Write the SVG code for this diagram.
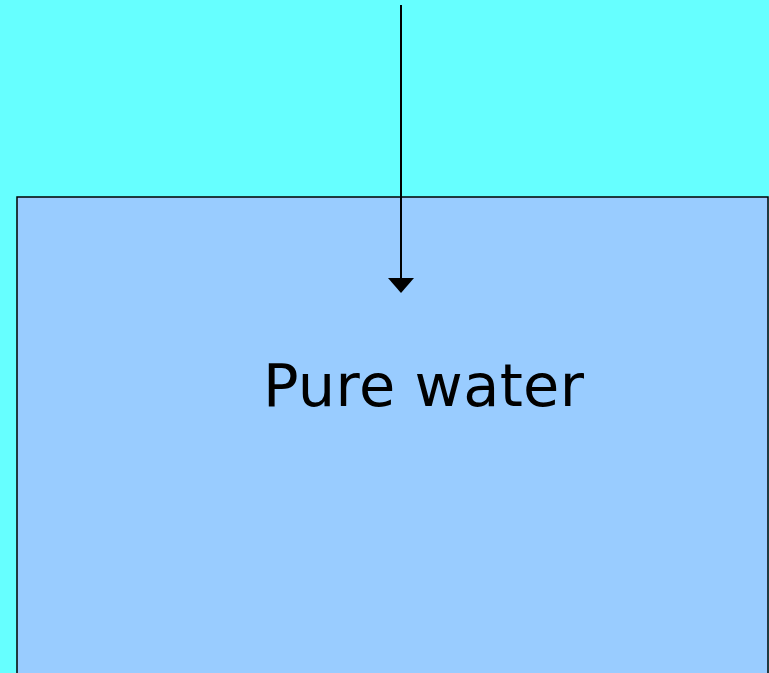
<svg xmlns="http://www.w3.org/2000/svg" width="769" height="673" viewBox="0 0 769 673">
<defs>
<style>
.label{font-family:"DejaVu Sans","Liberation Sans",sans-serif;font-size:59px;fill:#000}
.conn{stroke:#000;stroke-width:2;fill:none}
.head{fill:#000}
</style>
</defs>
<rect x="0" y="0" width="769" height="673" fill="#66FFFF"/>
<g id="water">
<rect x="17" y="197" width="751" height="490" fill="#99CCFF" stroke="#000" stroke-width="1.5"/>
<text class="label" x="263" y="406" textLength="321" lengthAdjust="spacing">Pure water</text>
</g>
<g id="connectors">
<line class="conn" x1="401" y1="5" x2="401" y2="279"/>
<path class="head" d="M388,278 L414,278 L401,293 Z"/>
</g>
</svg>
